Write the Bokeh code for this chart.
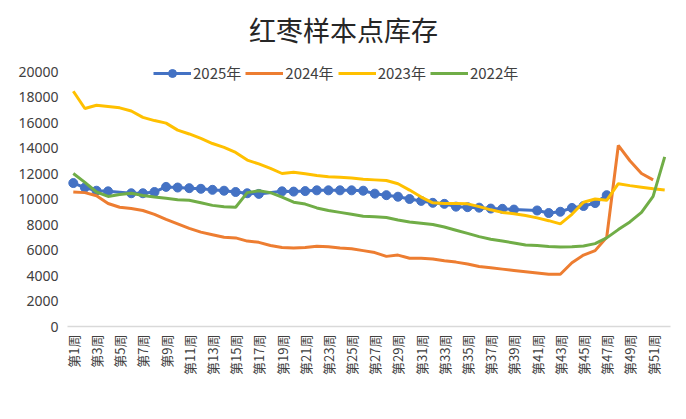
import math
from bokeh.plotting import figure
from bokeh.models import Range1d, FixedTicker, Legend, LegendItem, Label
from bokeh.embed import file_html
from bokeh.resources import INLINE

weeks = list(range(1, 53))
tick_weeks = list(range(1, 52, 2))
tick_labels = {w: f"第{w}周" for w in tick_weeks}
y_ticks = list(range(0, 20001, 2000))

s2025 = [11250, 10900, 10650, 10600, None, 10450, 10450, 10550, 10950, 10900,
         10850, 10800, 10720, 10650, 10550, 10450, 10400, None, 10600, 10580,
         10620, 10680, 10680, 10680, 10680, 10650, 10420, 10300, 10180, 10000,
         9850, 9700, 9620, 9400, 9360, 9320, 9250, 9230, 9170, None,
         9100, 8900, 9000, 9300, 9450, 9680, 10300, None, None, None,
         None, None]
s2024 = [10550, 10500, 10250, 9650, 9350, 9250, 9100, 8800, 8400, 8050,
         7700, 7400, 7200, 7000, 6950, 6700, 6600, 6350, 6200, 6150,
         6200, 6300, 6250, 6150, 6100, 5950, 5800, 5500, 5600, 5350,
         5350, 5300, 5150, 5050, 4900, 4700, 4600, 4500, 4400, 4300,
         4200, 4100, 4100, 5000, 5600, 5950, 7000, 14200, 13000, 12000,
         11500, None]
s2023 = [18450, 17100, 17350, 17250, 17150, 16900, 16400, 16150, 15950, 15400,
         15100, 14750, 14350, 14050, 13650, 13050, 12750, 12400, 12000, 12100,
         11980, 11850, 11750, 11700, 11650, 11550, 11500, 11450, 11200, 10700,
         10150, 9700, 9650, 9650, 9620, 9400, 9150, 8950, 8850, 8700,
         8520, 8300, 8050, 8800, 9750, 10000, 9900, 11200, 11050, 10930,
         10800, 10700]
s2022 = [12000, 11300, 10550, 10200, 10350, 10450, 10270, 10150, 10050, 9950,
         9900, 9700, 9500, 9400, 9350, 10500, 10650, 10500, 10150, 9750,
         9600, 9300, 9100, 8950, 8800, 8650, 8600, 8550, 8350, 8200,
         8100, 8000, 7800, 7550, 7300, 7050, 6850, 6700, 6550, 6400,
         6350, 6280, 6230, 6250, 6320, 6500, 6950, 7600, 8200, 8950,
         10200, 13300]

series_names = ["2025年", "2024年", "2023年", "2022年"]
series_vals = [s2025, s2024, s2023, s2022]
colors = ["#4472C4", "#ED7D31", "#FFC000", "#70AD47"]
title_text = "红枣样本点库存"

# frame spans 313 px vertically; 20000 sits 255 px above the baseline
y_top = 20000 * 313 / 255

p = figure(width=686, height=419, output_backend="svg", toolbar_location=None,
           x_range=Range1d(0.5, 52.5), y_range=Range1d(0, y_top),
           min_border_left=67, min_border_right=16, min_border_top=13,
           min_border_bottom=93)
p.outline_line_color = None
p.xgrid.grid_line_color = None
p.ygrid.grid_line_color = None

CJK = "Noto Sans CJK SC"

p.yaxis.ticker = FixedTicker(ticks=y_ticks)
p.yaxis.axis_line_color = None
p.yaxis.major_tick_line_color = None
p.yaxis.minor_tick_line_color = None
p.yaxis.major_tick_out = 0
p.yaxis.major_label_standoff = 9
p.yaxis.major_label_text_font = "Noto Sans"
p.yaxis.major_label_text_font_size = "14px"
p.yaxis.major_label_text_color = "#404040"

p.xaxis.ticker = FixedTicker(ticks=tick_weeks)
p.xaxis.major_label_overrides = tick_labels
p.xaxis.major_label_orientation = math.pi / 2
p.xaxis.axis_line_color = "#d9d9d9"
p.xaxis.axis_line_width = 1.5
p.xaxis.major_tick_line_color = None
p.xaxis.minor_tick_line_color = None
p.xaxis.major_tick_out = 0
p.xaxis.major_label_standoff = 8
p.xaxis.major_label_text_font = CJK
p.xaxis.major_label_text_font_size = "13px"
p.xaxis.major_label_text_color = "#404040"

items = []
for name, vals, col in zip(series_names, series_vals, colors):
    xs = [w for w, v in zip(weeks, vals) if v is not None]
    ys = [v for v in vals if v is not None]
    r = p.line(xs, ys, line_color=col, line_width=3)
    rs = [r]
    if name == "2025年":
        m = p.scatter(xs, ys, size=9, fill_color=col, line_color=col)
        rs.append(m)
    items.append(LegendItem(label=name, renderers=rs))

legend = Legend(items=items, orientation="horizontal", location=(86, 243),
                glyph_width=38, glyph_height=20, label_height=20,
                label_standoff=2, spacing=4, padding=0, margin=0,
                label_text_font=CJK, label_text_font_size="15px",
                label_text_color="#404040",
                background_fill_alpha=0, border_line_color=None)
p.add_layout(legend)

title = Label(x=276, y=297, x_units="screen", y_units="screen", text=title_text,
              text_align="center", text_baseline="middle", text_font=CJK,
              text_font_size="27px", text_color="#262626")
p.add_layout(title)

open("out.html", "w").write(file_html(p, INLINE))
